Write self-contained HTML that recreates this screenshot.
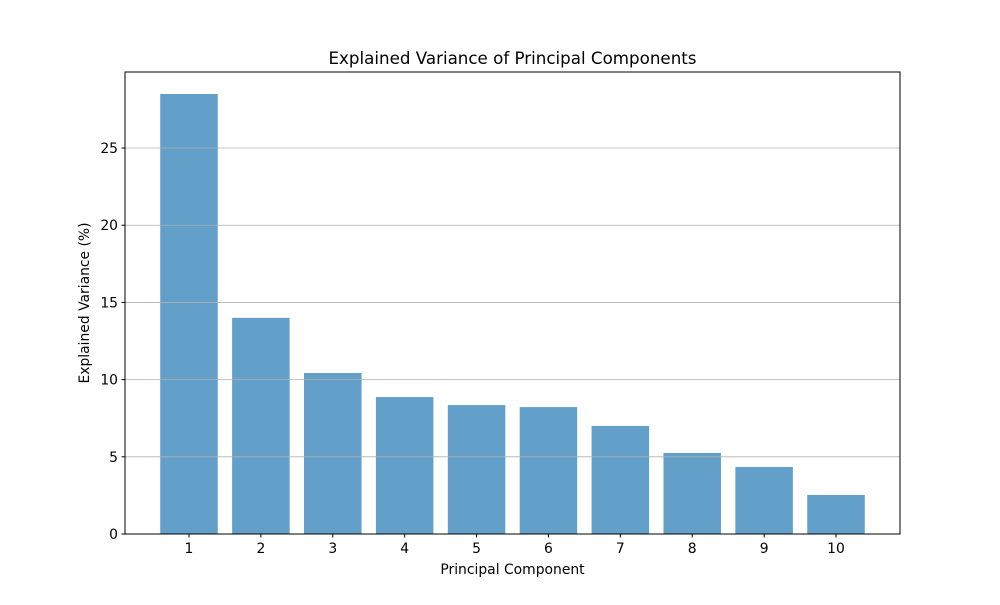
<!DOCTYPE html>
<html><head><meta charset="utf-8"><style>
body{margin:0;background:#fff;}
svg text{font-family:"DejaVu Sans","Liberation Sans",sans-serif;fill:#000;}
</style></head><body>
<svg id="chart" width="1000" height="600" xmlns="http://www.w3.org/2000/svg">
<rect width="1000" height="600" fill="#fff"/>
<g id="bars"></g><g id="grid"></g><g id="ticks"></g>
<rect x="125" y="72" width="775" height="462" fill="none" stroke="#000" stroke-width="1"/>
<text x="512.5" y="64" text-anchor="middle" font-size="16.7">Explained Variance of Principal Components</text>
<text x="512.5" y="574" text-anchor="middle" font-size="13.9">Principal Component</text>
<text transform="translate(89,303) rotate(-90)" text-anchor="middle" font-size="13.9">Explained Variance (%)</text>
</svg>
<script>
const categories=[1,2,3,4,5,6,7,8,9,10];
const variance=[28.5,14.0,10.43,8.87,8.35,8.22,7.0,5.25,4.34,2.53];
const yTicks=[0,5,10,15,20,25];
const L=125,R=900,T=72,B=534,xmin=0.11,xmax=10.89,ymax=29.925;
const x=v=>L+(v-xmin)/(xmax-xmin)*(R-L);
const y=v=>B-v/ymax*(B-T);
const NS="http://www.w3.org/2000/svg";
function mk(tag,attrs,parent){const e=document.createElementNS(NS,tag);for(const k in attrs)e.setAttribute(k,attrs[k]);document.getElementById(parent).appendChild(e);return e;}
categories.forEach((c,i)=>{
 const r=mk('rect',{x:x(c-0.4),y:y(variance[i]),width:x(c+0.4)-x(c-0.4),height:B-y(variance[i]),fill:'#1f77b4','fill-opacity':0.7},'bars');
 
 
 const t=mk('line',{x1:x(c),x2:x(c),y1:B,y2:B+3.5,stroke:'#000'},'ticks');
 
 
 const l=mk('text',{x:x(c),y:B+19,'text-anchor':'middle','font-size':13.9},'ticks');l.textContent=c;
 
 
});
yTicks.forEach(v=>{
 if(v>0){const g=mk('line',{x1:L,x2:R,y1:y(v),y2:y(v),stroke:'#b0b0b0','stroke-width':0.8},'grid');
 
 }
 const t=mk('line',{x1:L-3.5,x2:L,y1:y(v),y2:y(v),stroke:'#000'},'ticks');
 
 
 const l=mk('text',{x:L-7,y:y(v)+5,'text-anchor':'end','font-size':13.9},'ticks');l.textContent=v;
 
 
});
</script>
</body></html>
